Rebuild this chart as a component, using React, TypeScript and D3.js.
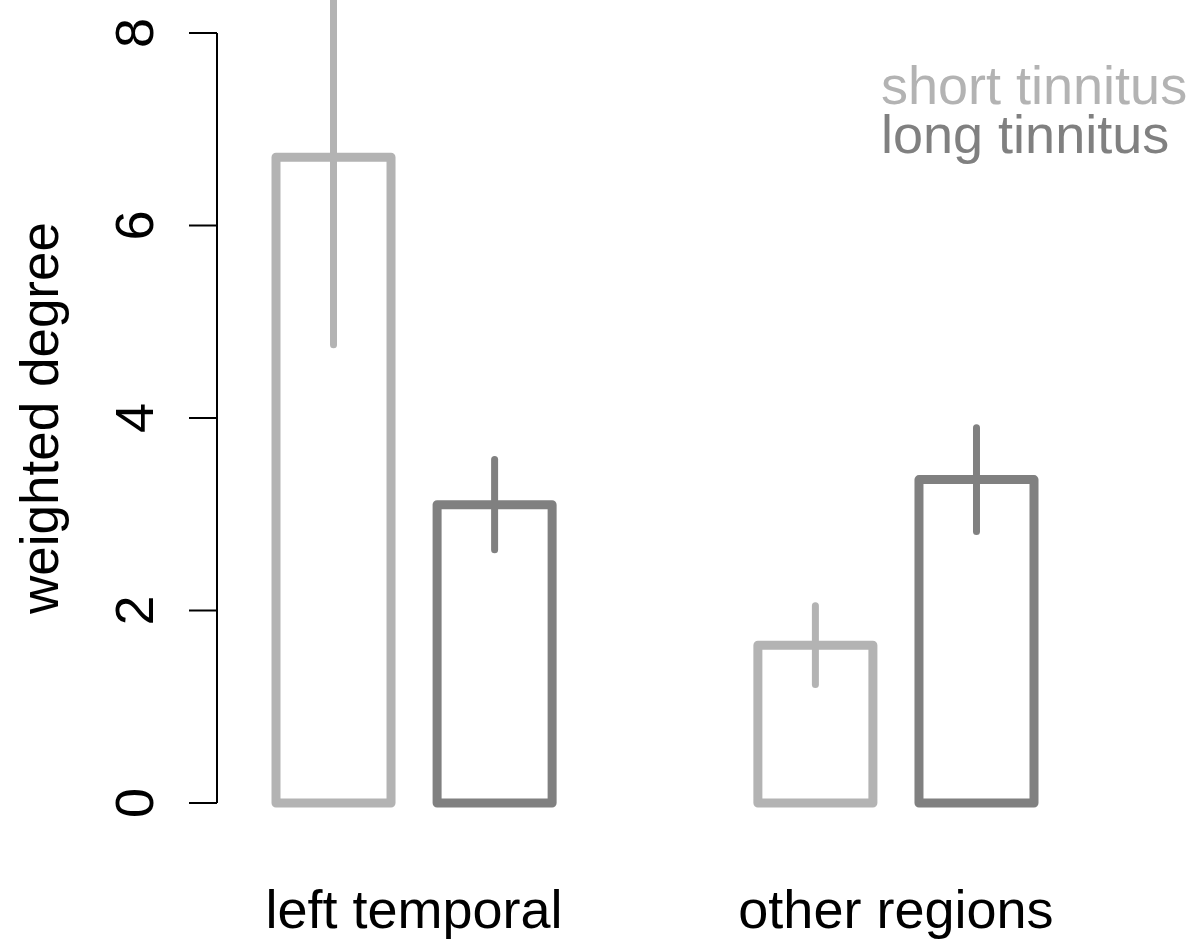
import React, { useEffect, useRef } from "react";
import * as d3 from "d3";

// data
const categories = ["left temporal", "other regions"];
const seriesNames = ["short tinnitus", "long tinnitus"];
const shortMeans = [6.71, 1.64];
const shortErrs = [1.95, 0.41];
const longMeans = [3.1, 3.36];
const longErrs = [0.47, 0.54];
const yTicks = [0, 2, 4, 6, 8];

const colors = ["#b3b3b3", "#808080"];

export default function App() {
  const ref = useRef<SVGSVGElement>(null);

  useEffect(() => {
    const svg = d3.select(ref.current);
    svg.selectAll("*").remove();

    const W = 1200, H = 946;
    const font = "Liberation Sans, Arial, Helvetica, sans-serif";

    const y = d3.scaleLinear().domain([0, 8]).range([803, 33]);

    const x0 = d3
      .scaleBand()
      .domain(categories)
      .range([276, 1034])
      .paddingInner(0.427)
      .paddingOuter(0);

    const x1 = d3
      .scaleBand()
      .domain(seriesNames)
      .range([0, x0.bandwidth()])
      .paddingInner(0.286)
      .paddingOuter(0);

    const rows: { cat: string; s: string; v: number; e: number; i: number }[] = [];
    categories.forEach((c, ci) => {
      rows.push({ cat: c, s: seriesNames[0], v: shortMeans[ci], e: shortErrs[ci], i: 0 });
      rows.push({ cat: c, s: seriesNames[1], v: longMeans[ci], e: longErrs[ci], i: 1 });
    });

    // y axis (R style, no domain extension)
    const ax = svg.append("g");
    ax.append("line")
      .attr("x1", 217).attr("x2", 217)
      .attr("y1", y(0)).attr("y2", y(8))
      .attr("stroke", "#000").attr("stroke-width", 2);
    ax.selectAll(".tick")
      .data(yTicks)
      .join("line")
      .attr("x1", 189).attr("x2", 217)
      .attr("y1", (d) => y(d)).attr("y2", (d) => y(d))
      .attr("stroke", "#000").attr("stroke-width", 2);
    ax.selectAll(".lab")
      .data(yTicks)
      .join("text")
      .attr("transform", (d) => `translate(153, ${y(d)}) rotate(-90)`)
      .attr("text-anchor", "middle")
      .attr("font-family", font)
      .attr("font-size", 54)
      .attr("fill", "#000")
      .text((d) => d);

    svg.append("text")
      .attr("transform", `translate(58, ${y(4)}) rotate(-90)`)
      .attr("text-anchor", "middle")
      .attr("font-family", font)
      .attr("font-size", 53)
      .attr("fill", "#000")
      .text("weighted degree");

    // bars
    svg.selectAll(".bar")
      .data(rows)
      .join("rect")
      .attr("x", (d) => x0(d.cat)! + x1(d.s)!)
      .attr("y", (d) => y(d.v))
      .attr("width", x1.bandwidth())
      .attr("height", (d) => y(0) - y(d.v))
      .attr("fill", "none")
      .attr("stroke", (d) => colors[d.i])
      .attr("stroke-width", 9)
      .attr("stroke-linejoin", "round");

    // error bars
    svg.selectAll(".err")
      .data(rows)
      .join("line")
      .attr("x1", (d) => x0(d.cat)! + x1(d.s)! + x1.bandwidth() / 2)
      .attr("x2", (d) => x0(d.cat)! + x1(d.s)! + x1.bandwidth() / 2)
      .attr("y1", (d) => y(d.v + d.e))
      .attr("y2", (d) => y(d.v - d.e))
      .attr("stroke", (d) => colors[d.i])
      .attr("stroke-width", 7)
      .attr("stroke-linecap", "round");

    // category labels
    svg.selectAll(".cat")
      .data(categories)
      .join("text")
      .attr("x", (d) => x0(d)! + x0.bandwidth() / 2)
      .attr("y", 928)
      .attr("text-anchor", "middle")
      .attr("font-family", font)
      .attr("font-size", 54)
      .attr("fill", "#000")
      .text((d) => d);

    // legend
    svg.selectAll(".leg")
      .data(seriesNames)
      .join("text")
      .attr("x", 881)
      .attr("y", (d, i) => 104 + i * 49)
      .attr("font-family", font)
      .attr("font-size", 54)
      .attr("fill", (d, i) => colors[i])
      .text((d) => d);

    svg.attr("width", W).attr("height", H);
  }, []);

  return (
    <svg
      ref={ref}
      width={1200}
      height={946}
      style={{ position: "absolute", left: 0, top: 0, background: "#fff" }}
    />
  );
}
